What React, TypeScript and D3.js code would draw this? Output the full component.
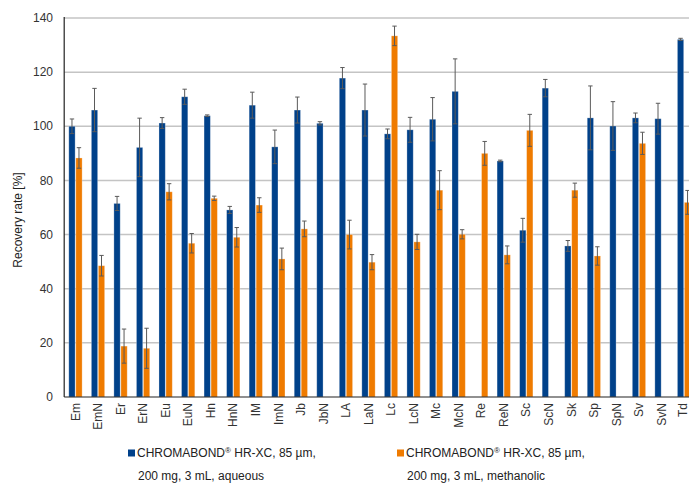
import * as d3 from 'd3';

const categories = ['Em', 'EmN', 'Er', 'ErN', 'Eu', 'EuN', 'Hn', 'HnN', 'IM', 'ImN', 'Jb', 'JbN', 'LA', 'LaN', 'Lc', 'LcN', 'Mc', 'McN', 'Re', 'ReN', 'Sc', 'ScN', 'Sk', 'Sp', 'SpN', 'Sv', 'SvN', 'Td'];
const aqueous = [100, 106, 71.5, 92.2, 101.2, 110.9, 103.9, 69.1, 107.8, 92.4, 106, 101.1, 117.8, 106, 97.2, 98.7, 102.6, 112.9, null, 87.2, 61.6, 114.1, 55.8, 103.1, 100.1, 103.1, 102.8, 132.1];
const aqueousErr = [2.7, 8, 2.6, 10.8, 2, 2.8, 0.3, 1.3, 4.8, 6.2, 4.8, 0.6, 3.9, 9.6, 1.8, 4.6, 8, 12, 0, 0.3, 4.4, 3.2, 2, 11.8, 9, 1.8, 5.7, 0.4];
const methanolic = [88.3, 48.5, 18.8, 18, 75.8, 56.8, 73.4, 59, 70.9, 51, 62.1, null, 60, 49.8, 133.4, 57.3, 76.4, 60.1, 90, 52.5, 98.5, null, 76.4, 52.1, null, 93.7, null, 71.9];
const methanolicErr = [3.8, 3.8, 6.3, 7.4, 3, 3.6, 0.8, 3.6, 2.7, 4, 2.9, 0, 5.3, 2.8, 3.6, 2.8, 7.2, 1.7, 4.4, 3.3, 5.9, 0, 2.6, 3.4, 0, 4.1, 0, 4.4];
const yTicks = [0, 20, 40, 60, 80, 100, 120, 140];

const legendFirst = ['HR-XC, 85 µm,', 'HR-XC, 85 µm,'];
const legendSecond = ['200 mg, 3 mL, aqueous', '200 mg, 3 mL, methanolic'];
const colors = ['#00418a', '#ef7b00'];

const W = 689;
const H = 484;
const left = 64.2;
const top = 18;
const bottom = 397;
const font = 'Liberation Sans, Arial, sans-serif';

export default function App() {
  const x = d3.scaleBand().domain(categories).range([left, left + 22.54 * categories.length]).padding(0);
  const sub = d3.scaleBand().domain(['a', 'm']).range([0, x.bandwidth()]).paddingInner(0.1).paddingOuter(0.66);
  const y = d3.scaleLinear().domain([0, 140]).range([bottom, top]);

  const series = [
    { key: 'a', vals: aqueous, errs: aqueousErr, color: colors[0] },
    { key: 'm', vals: methanolic, errs: methanolicErr, color: colors[1] },
  ];

  return (
    <svg width={W} height={H} style={{ position: 'absolute', left: 0, top: 0, background: '#fff' }} fontFamily={font}>
      {yTicks.map((t) => (
        <g key={t}>
          {t > 0 && <line x1={left} x2={W} y1={y(t)} y2={y(t)} stroke="#c4c4c4" strokeWidth={1.5} />}
          <text x={53} y={y(t)} dy="0.35em" textAnchor="end" fontSize={12} fill="#333">{t}</text>
        </g>
      ))}
      {series.map((s) =>
        categories.map((c, i) => {
          const v = s.vals[i];
          if (v == null) return null;
          const bx = (x(c) as number) + (sub(s.key) as number);
          const bw = sub.bandwidth();
          const cx = bx + bw / 2;
          const e = s.errs[i];
          return (
            <g key={s.key + c}>
              <rect x={bx} y={y(v)} width={bw} height={bottom - y(v)} fill={s.color} stroke="rgba(255,255,255,0.35)" strokeWidth={0.8} />
              {e > 0 && (
                <g stroke="#5a5a5a" strokeWidth={1}>
                  <line x1={cx} x2={cx} y1={y(v + e)} y2={y(v - e)} />
                  <line x1={cx - 2.2} x2={cx + 2.2} y1={y(v + e)} y2={y(v + e)} />
                  <line x1={cx - 2.2} x2={cx + 2.2} y1={y(v - e)} y2={y(v - e)} />
                </g>
              )}
            </g>
          );
        })
      )}
      <line x1={left} x2={left} y1={top - 1} y2={bottom} stroke="#222" strokeWidth={1.2} />
      <line x1={left} x2={W} y1={bottom} y2={bottom} stroke="#222" strokeWidth={1.2} />
      {categories.map((c) => (
        <text
          key={c}
          transform={`translate(${Math.min((x(c) as number) + x.bandwidth() / 2, 683)},403) rotate(-90)`}
          textAnchor="end"
          dy="0.35em"
          fontSize={12}
          fill="#333"
        >
          {c}
        </text>
      ))}
      <text transform="translate(22,220) rotate(-90)" textAnchor="middle" fontSize={12} fill="#222">Recovery rate [%]</text>
      {colors.map((col, i) => {
        const lx = i === 0 ? 128 : 397;
        return (
          <g key={col}>
            <rect x={lx} y={449.5} width={7} height={7} fill={col} />
            <text x={lx + 9} y={457} fontSize={12} fill="#222">
              CHROMABOND<tspan fontSize={8} dy={-4}>®</tspan>
              <tspan dy={4}> {legendFirst[i]}</tspan>
            </text>
            <text x={lx + 10} y={480} fontSize={12} fill="#222">{legendSecond[i]}</text>
          </g>
        );
      })}
    </svg>
  );
}
